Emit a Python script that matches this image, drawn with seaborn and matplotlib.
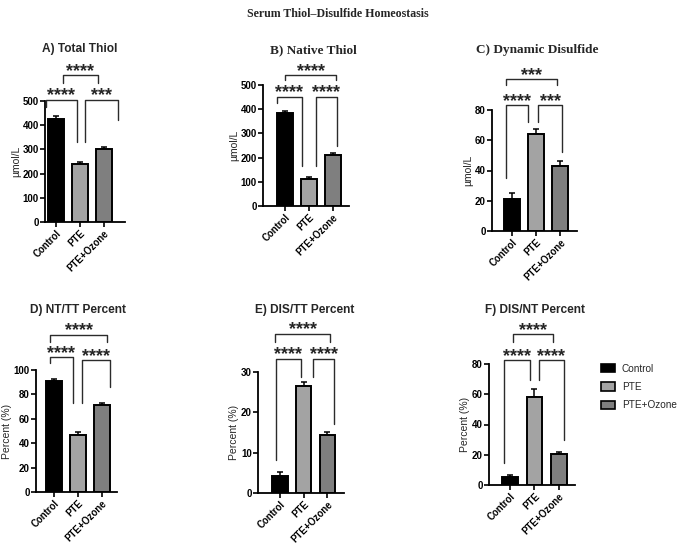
import matplotlib
matplotlib.use("Agg")
import matplotlib.pyplot as plt
from matplotlib.patches import Patch
import numpy as np
import pandas as pd
import seaborn as sns

groups = ["Control", "PTE", "PTE+Ozone"]
colors = ["#000000", "#a3a3a3", "#7f7f7f"]

total_thiol = [425, 240, 300]
total_thiol_err = [15, 8, 10]
native_thiol = [385, 112, 212]
native_thiol_err = [8, 6, 8]
dyn_disulfide = [21, 64, 43]
dyn_disulfide_err = [4, 3.5, 3.2]
nt_tt = [91, 47, 71]
nt_tt_err = [2, 2, 2]
dis_tt = [4.3, 26.5, 14.3]
dis_tt_err = [0.9, 1.1, 0.8]
dis_nt = [5.3, 58.5, 20.5]
dis_nt_err = [1.0, 5.0, 1.6]

# brackets: (i, j, dx_i, dx_j, top, leg_i, leg_j, label)
brk_a = [(0, 1, -0.42, -0.14, 505, 475, 330, "****"),
         (1, 2, 0.22, 0.6, 505, 330, 421, "***"),
         (0, 2, 0.27, -0.24, 607, 574, 574, "****")]
brk_b = [(0, 1, -0.33, -0.3, 452, 424, 165, "****"),
         (1, 2, 0.28, 0.17, 452, 165, 248, "****"),
         (0, 2, 0.0, 0.14, 541, 520, 520, "****")]
brk_c = [(0, 1, -0.25, -0.32, 83.3, 34.8, 72.3, "****"),
         (1, 2, 0.1, 0.06, 83.3, 72.3, 52.5, "***"),
         (0, 2, -0.25, -0.12, 100.3, 96.5, 96.5, "***")]
brk_d = [(0, 1, -0.18, -0.22, 110.4, 105.5, 73, "****"),
         (1, 2, 0.15, 0.33, 108.2, 73, 86, "****"),
         (0, 2, -0.18, 0.23, 129, 123, 123, "****")]
brk_e = [(0, 1, -0.17, -0.13, 33.3, 8.1, 28.8, "****"),
         (1, 2, 0.38, 0.3, 33.3, 28.8, 17, "****"),
         (0, 2, -0.2, 0.12, 39.5, 37.4, 37.4, "****")]
brk_f = [(0, 1, -0.25, -0.2, 82.6, 14.3, 69.4, "****"),
         (1, 2, 0.17, 0.2, 82.6, 69.4, 29.7, "****"),
         (0, 2, 0.12, -0.25, 99.6, 94.8, 94.8, "****")]

SANS = "Liberation Sans"
SERIF = "Liberation Serif"

sns.set_theme(style="ticks")
plt.rcParams["font.family"] = [SANS, "DejaVu Sans"]

W, H = 677, 543
fig = plt.figure(figsize=(W / 100, H / 100), dpi=100)

panels = [
    # values, err, ylim, yticks, ylabel, box(px: left,right,bottom,top), xlim, brackets, title, title_xy, serif
    (total_thiol, total_thiol_err, 500, [0, 100, 200, 300, 400, 500], "µmol/L",
     (45, 125, 222, 101), (-0.46, 2.875), brk_a, "A) Total Thiol", (80, 49), False),
    (native_thiol, native_thiol_err, 500, [0, 100, 200, 300, 400, 500], "µmol/L",
     (263, 349, 206, 85), (-0.92, 2.67), brk_b, "B) Native Thiol", (313, 50), True),
    (dyn_disulfide, dyn_disulfide_err, 80, [0, 20, 40, 60, 80], "µmol/L",
     (492, 577, 231, 110), (-0.83, 2.7), brk_c, "C) Dynamic Disulfide", (537, 50), True),
    (nt_tt, nt_tt_err, 100, [0, 20, 40, 60, 80, 100], "Percent (%)",
     (36, 117, 492, 370), (-0.75, 2.63), brk_d, "D) NT/TT Percent", (78, 310), False),
    (dis_tt, dis_tt_err, 30, [0, 10, 20, 30], "Percent (%)",
     (258, 344, 493, 372), (-0.92, 2.7), brk_e, "E) DIS/TT Percent", (305, 310), False),
    (dis_nt, dis_nt_err, 80, [0, 20, 40, 60, 80], "Percent (%)",
     (489, 575, 485, 364), (-0.87, 2.67), brk_f, "F) DIS/NT Percent", (535, 310), False),
]

for vals, errs, ymax, yticks, ylabel, box, xlim, brks, title, txy, serif in panels:
    l, r, b, t = box
    ax = fig.add_axes([l / W, 1 - b / H, (r - l) / W, (b - t) / H])
    df = pd.DataFrame({"group": groups, "value": vals})
    sns.barplot(data=df, x="group", y="value", hue="group", palette=colors,
                edgecolor="black", linewidth=1.4, width=0.65, legend=False,
                ax=ax, zorder=2)
    x = np.arange(len(groups))
    ax.errorbar(x, vals, yerr=[np.zeros(len(errs)), errs], fmt="none",
                ecolor="black", elinewidth=1.1, capsize=2.5, capthick=1.1, zorder=1)
    ax.set_xlim(*xlim)
    ax.set_ylim(0, ymax)
    ax.set_yticks(yticks)
    ax.set_xlabel("")
    ax.set_ylabel(ylabel, fontsize=7.5, labelpad=1)
    sns.despine(ax=ax)
    for s in ["left", "bottom"]:
        ax.spines[s].set_linewidth(1.3)
        ax.spines[s].set_color("black")
    ax.tick_params(axis="both", length=3.5, width=1.2, colors="black", pad=1)
    ax.set_xticks(x)
    ax.set_xticklabels(groups, rotation=45, ha="right", rotation_mode="anchor",
                       fontsize=6.9, fontweight="bold")
    for lab in ax.get_yticklabels():
        lab.set_fontsize(7)
        lab.set_fontweight("bold")
    ax.set_facecolor("white")

    for i, j, di, dj, top, li, lj, lab in brks:
        xi, xj = i + di, j + dj
        ax.plot([xi, xi, xj, xj], [li, top, top, lj], color="#2b2b2b",
                lw=1.0, clip_on=False, zorder=3)
        ax.annotate(lab, xy=((xi + xj) / 2, top), xytext=(0, -0.5),
                    textcoords="offset points", ha="center", va="baseline",
                    fontsize=13, fontweight="bold", annotation_clip=False)

    fam = [SERIF, "DejaVu Serif"] if serif else [SANS, "DejaVu Sans"]
    fig.text(txy[0] / W, 1 - txy[1] / H, title, ha="center", va="center",
             fontsize=9.5 if serif else 8.6, fontweight="bold", family=fam)

fig.text(338 / W, 1 - 14 / H, "Serum Thiol\u2013Disulfide Homeostasis",
         ha="center", va="center", fontsize=8.6, fontweight="bold",
         family=[SERIF, "DejaVu Serif"])

handles = [Patch(facecolor=c, edgecolor="black", linewidth=1.2, label=g)
           for c, g in zip(colors, groups)]
fig.legend(handles=handles, loc="center left", bbox_to_anchor=(601 / W, 1 - 387 / H),
           frameon=False, fontsize=7.2, handlelength=1.4, handleheight=0.9,
           handletextpad=0.7, labelspacing=0.85, borderpad=0, borderaxespad=0)

fig.savefig("out.png", dpi=100, facecolor="white")
